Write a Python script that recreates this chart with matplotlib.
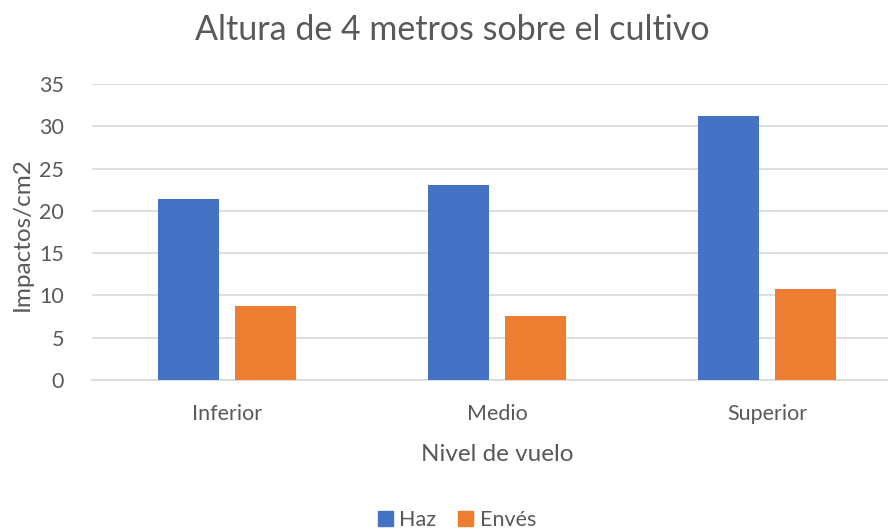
import matplotlib
matplotlib.use("Agg")
import matplotlib.pyplot as plt
import numpy as np
from matplotlib.patches import Patch

categories = ["Inferior", "Medio", "Superior"]
haz = [21.4, 23.0, 31.2]
enves = [8.8, 7.6, 10.8]
series_names = ["Haz", "Envés"]
yticks = [0, 5, 10, 15, 20, 25, 30, 35]

plt.rcParams['font.family'] = ['Lato', 'DejaVu Sans']
gray = "#595959"
blue = "#4472C4"
orange = "#ED7D31"

W, H = 888, 531
fig = plt.figure(figsize=(W/100, H/100), dpi=100)
x0, x1 = 92, 902
y0, y1 = 380, 84
ax = fig.add_axes([x0/W, (H-y0)/H, (x1-x0)/W, (y0-y1)/H])

x = np.arange(len(categories))
bw = 0.224
off = 0.143
ax.bar(x - off, haz, bw, color=blue, label=series_names[0], zorder=3)
ax.bar(x + off, enves, bw, color=orange, label=series_names[1], zorder=3)

ax.set_xlim(-0.5, 2.5)
ax.set_ylim(0, 35)
ax.set_yticks(yticks)
ax.set_xticks(x)
ax.set_xticklabels(categories)
ax.yaxis.grid(True, color="#D9D9D9", linewidth=1.2, zorder=0)
ax.set_axisbelow(True)
for s in ["top", "right", "left"]:
    ax.spines[s].set_visible(False)
ax.spines["bottom"].set_color("#D9D9D9")
ax.spines["bottom"].set_linewidth(1.2)
ax.tick_params(axis="both", length=0, labelsize=15.5, labelcolor=gray)
ax.tick_params(axis="x", pad=17)
ax.tick_params(axis="y", pad=20)

ax.set_xlabel("Nivel de vuelo", fontsize=17.5, color=gray, labelpad=15)
fig.text(22/W, (H-234)/H, "Impactos/cm2", rotation=90, fontsize=17.5, color=gray,
         ha="center", va="center")
fig.text(452/W, (H-30)/H, "Altura de 4 metros sobre el cultivo", fontsize=24.5,
         color=gray, ha="center", va="center")

handles = [Patch(color=blue), Patch(color=orange)]
fig.legend(handles, series_names, loc="center", bbox_to_anchor=(457/W, (H-520)/H),
           ncol=2, frameon=False, fontsize=15.5, labelcolor=gray,
           handlelength=0.7, handleheight=0.7, handletextpad=0.3, columnspacing=1.0,
           borderpad=0)

fig.savefig("out.png", dpi=100)
